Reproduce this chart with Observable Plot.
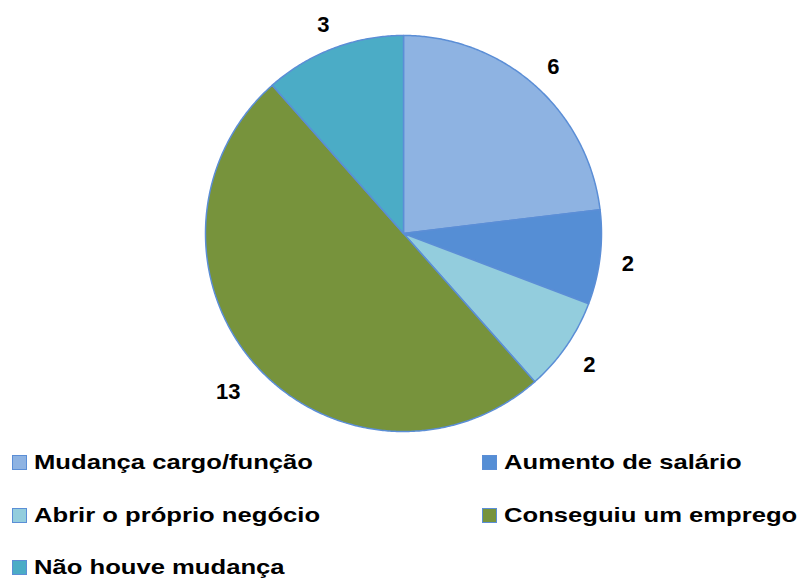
<!DOCTYPE html>
<html>
<head>
<meta charset="utf-8">
<script src="https://cdn.jsdelivr.net/npm/d3@7"></script>
<script src="https://cdn.jsdelivr.net/npm/@observablehq/plot@0.6"></script>
<style>
  html, body { margin: 0; padding: 0; background: #fff; }
  #wrap { width: 803px; height: 583px; position: relative; overflow: hidden; }
  #legend { position: relative; width: 803px; height: 138px; font-family: "Liberation Sans", Arial, sans-serif; font-weight: bold; font-size: 21px; color: #000; }
  .item { position: absolute; height: 24px; display: flex; align-items: center; }
  .sw { width: 13px; height: 13px; border: 1px solid #5B8ED6; box-sizing: content-box; }
  .lab { position: absolute; left: 22px; white-space: nowrap; transform: scaleX(1.22); transform-origin: left center; line-height: 24px; }
</style>
</head>
<body>
<div id="wrap">
  <div id="chart"></div>
  <div id="legend"></div>
</div>
<script>
const categories = ["Mudança cargo/função", "Aumento de salário", "Abrir o próprio negócio", "Conseguiu um emprego", "Não houve mudança"];
const values = [6, 2, 2, 13, 3];
const colors = ["#8EB3E2", "#558ED5", "#93CDDD", "#77933C", "#4BACC6"];

const R = 198;
const arcs = d3.pie().sort(null).startAngle(0).endAngle(2 * Math.PI)(values);

// slice outlines (polygon points computed from the pie angles)
const slicePts = [];
arcs.forEach((a, i) => {
  const cat = categories[i];
  slicePts.push({cat, x: 0, y: 0});
  const n = Math.max(2, Math.ceil((a.endAngle - a.startAngle) / (Math.PI / 360)));
  for (let k = 0; k <= n; k++) {
    const t = a.startAngle + (a.endAngle - a.startAngle) * k / n;
    slicePts.push({cat, x: R * Math.sin(t), y: R * Math.cos(t)});
  }
});

const labels = arcs.map((a, i) => {
  const mid = (a.startAngle + a.endAngle) / 2;
  const txt = String(values[i]);
  const r = 226 + (txt.length - 1) * 8;
  return {label: txt, x: r * Math.sin(mid), y: r * Math.cos(mid)};
});

const chart = Plot.plot({
  width: 803,
  height: 445,
  margin: 0,
  x: {domain: [-403, 400], axis: null},
  y: {domain: [-212, 233], axis: null},
  color: {domain: categories, range: colors},
  style: {background: "#fff"},
  marks: [
    Plot.line(slicePts, {x: "x", y: "y", z: "cat", fill: "cat", stroke: "#5B8ED6", strokeWidth: 1.5, curve: "linear-closed"}),
    Plot.text(labels, {x: "x", y: "y", text: "label", dy: 3, fontSize: 22, fontWeight: "bold", fontFamily: "Liberation Sans, Arial, sans-serif", fill: "#000"})
  ]
});
document.getElementById("chart").appendChild(chart);

// legend
const pos = [
  {left: 12, top: 5}, {left: 482, top: 5},
  {left: 12, top: 58}, {left: 482, top: 58},
  {left: 12, top: 110}
];
const legend = d3.select("#legend");
categories.forEach((c, i) => {
  const it = legend.append("div").attr("class", "item")
    .style("left", pos[i].left + "px").style("top", pos[i].top + "px");
  it.append("div").attr("class", "sw").style("background", colors[i]);
  it.append("span").attr("class", "lab").text(c);
});
</script>
</body>
</html>
